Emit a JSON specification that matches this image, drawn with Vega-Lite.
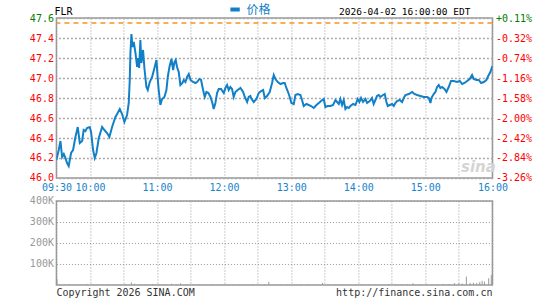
{
  "$schema": "https://vega.github.io/schema/vega-lite/v6.json",
  "padding": {"left": 28.42, "top": 3, "right": 5, "bottom": 2},
  "background": "white",
  "bounds": "flush",
  "spacing": 23,
  "config": {
    "view": {"stroke": "#999999", "strokeWidth": 1.5},
    "font": "DejaVu Sans Mono",
    "axis": {
      "labelFont": "DejaVu Sans Mono",
      "labelFontSize": 10,
      "title": null,
      "labelPadding": 3
    }
  },
  "datasets": {
    "price": [
      {"m":0,"p":46.18},{"m":2.1,"p":46.28},{"m":3.6,"p":46.37},{"m":5.1,"p":46.21},{"m":6.6,"p":46.24},{"m":8.1,"p":46.20},{"m":9.5,"p":46.15},{"m":11.0,"p":46.12},{"m":13.1,"p":46.25},{"m":14.9,"p":46.28},{"m":17.0,"p":46.41},{"m":19.1,"p":46.51},{"m":20.9,"p":46.35},{"m":23.0,"p":46.37},{"m":24.4,"p":46.48},{"m":25.9,"p":46.47},{"m":27.4,"p":46.50},{"m":29.8,"p":46.51},{"m":31.0,"p":46.46},{"m":32.8,"p":46.28},{"m":34.3,"p":46.20},{"m":35.8,"p":46.25},{"m":37.9,"p":46.40},{"m":40.9,"p":46.51},{"m":42.9,"p":46.48},{"m":45.3,"p":46.45},{"m":47.4,"p":46.41},{"m":49.8,"p":46.51},{"m":52.8,"p":46.61},{"m":54.3,"p":46.64},{"m":56.7,"p":46.69},{"m":58.7,"p":46.64},{"m":60.8,"p":46.56},{"m":63.2,"p":46.63},{"m":64.7,"p":46.75},{"m":65.6,"p":46.98},{"m":66.2,"p":47.25},{"m":67.1,"p":47.44},{"m":68.0,"p":47.31},{"m":69.2,"p":47.36},{"m":70.7,"p":47.25},{"m":72.2,"p":47.11},{"m":73.1,"p":47.20},{"m":74.0,"p":47.10},{"m":75.1,"p":47.38},{"m":76.0,"p":47.15},{"m":77.5,"p":47.28},{"m":78.7,"p":47.10},{"m":80.5,"p":46.91},{"m":81.7,"p":46.88},{"m":83.5,"p":46.96},{"m":85.6,"p":47.01},{"m":87.7,"p":47.10},{"m":89.5,"p":47.18},{"m":90.6,"p":47.00},{"m":91.5,"p":46.88},{"m":93.0,"p":46.73},{"m":94.5,"p":46.79},{"m":96.6,"p":46.81},{"m":98.4,"p":46.88},{"m":99.6,"p":47.01},{"m":101.1,"p":47.11},{"m":102.9,"p":47.19},{"m":104.4,"p":47.08},{"m":105.6,"p":47.16},{"m":106.7,"p":47.18},{"m":107.9,"p":47.11},{"m":109.4,"p":47.06},{"m":110.9,"p":46.93},{"m":112.7,"p":46.95},{"m":113.9,"p":46.98},{"m":115.4,"p":46.96},{"m":116.9,"p":47.01},{"m":118.4,"p":47.04},{"m":119.9,"p":46.98},{"m":122.3,"p":46.96},{"m":124.3,"p":46.95},{"m":125.8,"p":46.96},{"m":127.9,"p":46.99},{"m":129.4,"p":46.98},{"m":131.2,"p":46.88},{"m":132.7,"p":46.81},{"m":134.2,"p":46.86},{"m":136.0,"p":46.85},{"m":137.8,"p":46.81},{"m":139.5,"p":46.75},{"m":140.7,"p":46.69},{"m":142.2,"p":46.75},{"m":143.7,"p":46.85},{"m":145.2,"p":46.89},{"m":147.3,"p":46.89},{"m":149.7,"p":46.85},{"m":151.2,"p":46.90},{"m":152.7,"p":46.93},{"m":154.1,"p":46.88},{"m":155.6,"p":46.91},{"m":157.1,"p":46.89},{"m":158.6,"p":46.81},{"m":160.1,"p":46.86},{"m":162.2,"p":46.88},{"m":164.6,"p":46.90},{"m":167.0,"p":46.86},{"m":168.5,"p":46.81},{"m":170.6,"p":46.76},{"m":172.0,"p":46.81},{"m":173.5,"p":46.82},
      {"m":174.1,"p":46.80},{"m":176.5,"p":46.76},{"m":178.9,"p":46.79},{"m":181.0,"p":46.85},{"m":183.1,"p":46.87},{"m":184.9,"p":46.88},{"m":186.4,"p":46.80},{"m":188.4,"p":46.82},{"m":190.8,"p":46.86},{"m":192.9,"p":46.95},{"m":194.4,"p":47.03},{"m":195.9,"p":46.99},{"m":198.0,"p":46.96},{"m":200.4,"p":46.94},{"m":202.8,"p":46.95},{"m":204.2,"p":46.95},{"m":205.7,"p":46.90},{"m":207.2,"p":46.86},{"m":208.7,"p":46.81},{"m":210.2,"p":46.75},{"m":212.3,"p":46.74},{"m":213.8,"p":46.83},{"m":215.9,"p":46.84},{"m":218.3,"p":46.83},{"m":219.7,"p":46.78},{"m":221.2,"p":46.72},{"m":223.6,"p":46.74},{"m":225.7,"p":46.73},{"m":227.8,"p":46.72},{"m":230.2,"p":46.70},{"m":232.6,"p":46.73},{"m":234.7,"p":46.75},{"m":236.7,"p":46.77},{"m":239.1,"p":46.79},{"m":240.6,"p":46.71},{"m":242.7,"p":46.72},{"m":245.1,"p":46.72},{"m":247.5,"p":46.73},{"m":249.6,"p":46.78},{"m":251.1,"p":46.76},{"m":252.6,"p":46.74},{"m":254.0,"p":46.79},{"m":255.5,"p":46.73},{"m":257.0,"p":46.78},{"m":258.5,"p":46.69},{"m":260.0,"p":46.71},{"m":261.5,"p":46.70},{"m":263.0,"p":46.72},{"m":265.4,"p":46.74},{"m":267.5,"p":46.73},{"m":269.5,"p":46.79},{"m":271.0,"p":46.76},{"m":272.5,"p":46.80},{"m":274.3,"p":46.76},{"m":276.4,"p":46.79},{"m":277.9,"p":46.75},{"m":280.3,"p":46.77},{"m":282.3,"p":46.80},{"m":283.8,"p":46.74},{"m":285.3,"p":46.78},{"m":286.8,"p":46.82},{"m":288.3,"p":46.83},{"m":289.8,"p":46.81},{"m":292.2,"p":46.83},{"m":293.7,"p":46.84},{"m":295.2,"p":46.76},{"m":296.4,"p":46.72},{"m":298.2,"p":46.73},{"m":300.3,"p":46.74},{"m":301.8,"p":46.72},{"m":303.2,"p":46.75},{"m":304.7,"p":46.77},{"m":307.1,"p":46.78},{"m":309.2,"p":46.76},{"m":310.7,"p":46.80},{"m":312.2,"p":46.83},{"m":315.2,"p":46.84},{"m":318.2,"p":46.86},{"m":320.2,"p":46.84},{"m":322.6,"p":46.83},{"m":325.6,"p":46.82},{"m":328.6,"p":46.81},{"m":331.6,"p":46.81},{"m":333.1,"p":46.80},{"m":334.6,"p":46.75},{"m":335.4,"p":46.80},{"m":337.5,"p":46.84},{"m":339.0,"p":46.86},{"m":340.5,"p":46.91},{"m":342.0,"p":46.93},{"m":343.5,"p":46.90},{"m":345.0,"p":46.91},{"m":347.1,"p":46.89},{"m":348.9,"p":46.86},{"m":350.9,"p":46.91},{"m":353.0,"p":46.97},{"m":355.4,"p":46.97},{"m":358.4,"p":46.96},{"m":360.8,"p":46.97},{"m":362.9,"p":46.94},{"m":365.0,"p":46.95},{"m":367.4,"p":46.97},{"m":369.7,"p":46.99},{"m":371.8,"p":47.03},{"m":373.3,"p":46.99},{"m":375.7,"p":46.98},{"m":377.8,"p":46.98},{"m":379.9,"p":46.95},{"m":382.3,"p":46.96},{"m":384.6,"p":46.98},{"m":386.7,"p":47.03},{"m":388.2,"p":47.06},{"m":390,"p":47.12}
    ],
    "volume": [
      {"m":0.5,"v":28000},{"m":3,"v":3000},{"m":7,"v":2000},{"m":12,"v":4000},{"m":17,"v":2000},{"m":22,"v":3000},{"m":27,"v":5000},{"m":32,"v":2000},{"m":37,"v":3000},{"m":42,"v":2000},{"m":47,"v":4000},{"m":52,"v":2000},{"m":57,"v":3000},{"m":62,"v":5000},{"m":67,"v":12000},{"m":70,"v":6000},{"m":75,"v":4000},{"m":80,"v":3000},{"m":86,"v":5000},{"m":92,"v":2000},{"m":97,"v":3000},{"m":103,"v":6000},{"m":108,"v":4000},{"m":111,"v":8000},{"m":116,"v":3000},{"m":122,"v":2000},{"m":127,"v":3000},{"m":133,"v":2000},{"m":139,"v":4000},{"m":145,"v":2000},{"m":151,"v":3000},{"m":157,"v":2000},{"m":163,"v":3000},{"m":170,"v":2000},{"m":176,"v":4000},{"m":182,"v":2000},{"m":186,"v":3000},{"m":190,"v":15000},{"m":195,"v":3000},{"m":201,"v":2000},{"m":207,"v":3000},{"m":213,"v":2000},{"m":219,"v":4000},{"m":225,"v":3000},{"m":231,"v":2000},{"m":238,"v":10000},{"m":243,"v":3000},{"m":249,"v":2000},{"m":255,"v":3000},{"m":261,"v":2000},{"m":267,"v":3000},{"m":273,"v":4000},{"m":279,"v":2000},{"m":285,"v":3000},{"m":291,"v":2000},{"m":297,"v":4000},{"m":303,"v":3000},{"m":309,"v":2000},{"m":314,"v":3000},{"m":319,"v":8000},{"m":325,"v":3000},{"m":331,"v":4000},{"m":336,"v":2000},{"m":341,"v":3000},{"m":346,"v":5000},{"m":351,"v":4000},{"m":356,"v":9000},{"m":360,"v":8000},{"m":363,"v":7000},{"m":366.7,"v":40000},{"m":370,"v":10000},{"m":373,"v":11000},{"m":376,"v":10000},{"m":378.7,"v":14000},{"m":380.8,"v":20000},{"m":382.9,"v":16000},{"m":386.7,"v":32000},{"m":389,"v":48000}
    ]
  },
  "vconcat": [
    {
      "width": 436,
      "height": 160,
      "layer": [
        {
          "data": {"name": "price"},
          "mark": {"type": "line", "color": "#1180C8", "strokeWidth": 2, "clip": true},
          "encoding": {
            "x": {
              "field": "m", "type": "quantitative",
              "scale": {"domain": [0, 390], "nice": false, "zero": false},
              "axis": {
                "values": [0,30,60,90,120,150,180,210,240,270,300,330,360,390],
                "grid": true, "gridColor": "#999999", "gridDash": [1, 2], "gridWidth": 1,
                "ticks": false, "domain": false,
                "labelOverlap": false, "labelFlush": false,
                "labelColor": "#1a84cc",
                "labelPadding": 5,
                "labelExpr": "datum.value == 0 ? '09:30' : (datum.value % 60 == 30 ? (9 + (datum.value + 30) / 60) + ':00' : '')"
              }
            },
            "y": {
              "field": "p", "type": "quantitative",
              "scale": {"domain": [46.0, 47.6], "nice": false, "zero": false},
              "axis": {
                "values": [46.0,46.2,46.4,46.6,46.8,47.0,47.2,47.4,47.6],
                "format": ".1f",
                "grid": false,
                "ticks": false, "domain": false,
                "labelOverlap": false,
                "labelColor": {"condition": {"test": "datum.value >= 47.55", "value": "#008000"}, "value": "#FF0000"}
              }
            }
          }
        },
        {
          "data": {"values": [{}]},
          "mark": {"type": "rule", "color": "#F7941D", "strokeDash": [5, 4], "strokeWidth": 1.5},
          "encoding": {
            "y": {
              "datum": 47.55, "type": "quantitative",
              "axis": {
                "orient": "right",
                "values": [46.0,46.2,46.4,46.6,46.8,47.0,47.2,47.4,47.6],
                "grid": true, "gridColor": "#aaaaaa", "gridDash": [2, 2], "gridWidth": 1.5,
                "ticks": false, "domain": false,
                "labelOverlap": false,
                "labelExpr": "((datum.value / 47.55 - 1) >= 0 ? '+' : '-') + format(abs((datum.value / 47.55 - 1) * 100), '.2f') + '%'",
                "labelColor": {"condition": {"test": "datum.value >= 47.55", "value": "#008000"}, "value": "#FF0000"}
              }
            }
          }
        },
        {
          "data": {"values": [{}]},
          "mark": {"type": "text", "text": "FLR", "align": "left", "baseline": "alphabetic", "dy": -3, "dx": -2, "fontSize": 10, "font": "DejaVu Sans Mono", "color": "#000000"},
          "encoding": {
            "x": {"datum": 0, "type": "quantitative", "axis": null},
            "y": {"datum": 47.6, "type": "quantitative", "axis": null}
          }
        },
        {
          "data": {"values": [{}]},
          "mark": {"type": "text", "text": "2026-04-02 16:00:00 EDT", "align": "right", "baseline": "alphabetic", "dy": -3, "fontSize": 9.5, "font": "DejaVu Sans Mono", "color": "#000000"},
          "encoding": {
            "x": {"datum": 370.3, "type": "quantitative", "axis": null},
            "y": {"datum": 47.6, "type": "quantitative", "axis": null}
          }
        },
        {
          "data": {"values": [{}]},
          "mark": {"type": "rule", "color": "#1180C8", "strokeWidth": 4},
          "encoding": {
            "x": {"datum": 155.6, "type": "quantitative", "axis": null},
            "x2": {"datum": 164},
            "y": {"datum": 47.685, "type": "quantitative", "axis": null}
          }
        },
        {
          "data": {"values": [{}]},
          "mark": {"type": "text", "text": "价格", "align": "left", "baseline": "middle", "fontSize": 12, "font": "Noto Sans CJK SC", "color": "#1180C8"},
          "encoding": {
            "x": {"datum": 170, "type": "quantitative", "axis": null},
            "y": {"datum": 47.68, "type": "quantitative", "axis": null}
          }
        },
        {
          "data": {"values": [{}]},
          "mark": {"type": "text", "text": "sina", "align": "center", "baseline": "alphabetic", "fontSize": 15, "font": "DejaVu Sans", "fontWeight": "bold", "fontStyle": "italic", "color": "#d4d4d4"},
          "encoding": {
            "x": {"datum": 377.5, "type": "quantitative", "axis": null},
            "y": {"datum": 46.06, "type": "quantitative", "axis": null}
          }
        }
      ],
      "resolve": {"axis": {"x": "independent", "y": "independent"}}
    },
    {
      "width": 436,
      "height": 84,
      "layer": [
        {
          "data": {"name": "volume"},
          "mark": {"type": "rule", "color": "#999999", "strokeWidth": 1},
          "encoding": {
            "x": {
              "field": "m", "type": "quantitative",
              "scale": {"domain": [0, 390], "nice": false, "zero": false},
              "axis": {
                "values": [0,30,60,90,120,150,180,210,240,270,300,330,360,390],
                "grid": true, "gridColor": "#999999", "gridDash": [1, 2], "gridWidth": 1,
                "ticks": false, "domain": false,
                "labels": false
              }
            },
            "y": {
              "field": "v", "type": "quantitative",
              "scale": {"domain": [0, 400000], "nice": false},
              "axis": {
                "values": [100000, 200000, 300000, 400000],
                "grid": true, "gridColor": "#999999", "gridDash": [1, 2], "gridWidth": 1,
                "ticks": false, "domain": false,
                "labelOverlap": false,
                "labelColor": "#999999",
                "labelExpr": "format(datum.value / 1000, 'd') + 'K'"
              }
            },
            "y2": {"datum": 0}
          }
        },
        {
          "data": {"values": [{}]},
          "mark": {"type": "text", "text": "Copyright 2026 SINA.COM", "align": "left", "baseline": "top", "dy": 3, "fontSize": 10, "font": "DejaVu Sans Mono", "color": "#333333"},
          "encoding": {
            "x": {"datum": 0, "type": "quantitative", "axis": null},
            "y": {"datum": 0, "type": "quantitative", "axis": null}
          }
        },
        {
          "data": {"values": [{}]},
          "mark": {"type": "text", "text": "http://finance.sina.com.cn", "align": "right", "baseline": "top", "dy": 3, "fontSize": 10, "font": "DejaVu Sans Mono", "color": "#333333"},
          "encoding": {
            "x": {"datum": 390, "type": "quantitative", "axis": null},
            "y": {"datum": 0, "type": "quantitative", "axis": null}
          }
        }
      ],
      "resolve": {"axis": {"x": "independent", "y": "independent"}}
    }
  ]
}
